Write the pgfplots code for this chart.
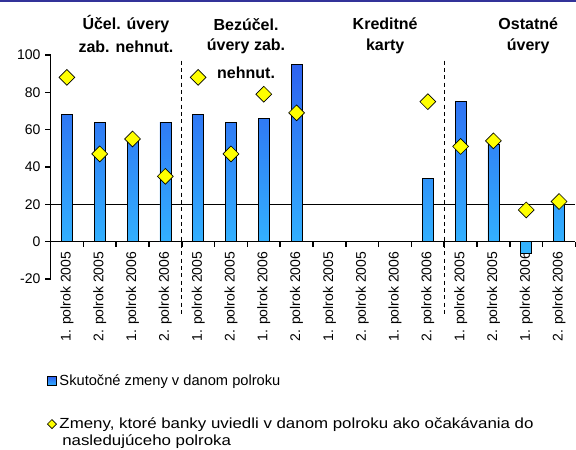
\documentclass[border=0pt]{standalone}
\usepackage{pgfplots}
\pgfplotsset{compat=1.18}
\usepackage{fontspec}
\setmainfont{Liberation Sans}
\newfontfamily\widefont[FakeStretch=1.15]{Liberation Sans}
\definecolor{bartop}{HTML}{2E62F0}
\definecolor{barbot}{HTML}{33B5FF}
\definecolor{diam}{HTML}{FFFF00}
\definecolor{frameblue}{HTML}{333399}

\begin{document}
\begin{tikzpicture}
\begin{axis}[
  scale only axis,
  width=393.75pt, height=168pt,
  xmin=-0.5, xmax=15.5, ymin=-20, ymax=100,
  clip=false,
  axis x line*=middle, axis y line*=left,
  axis line style={line width=1.2pt, black},
  tick align=outside,
  ytick={-20,0,20,40,60,80,100},
  yticklabels={-20,0,20,40,60,80,100},
  xtick={0,...,15},
  xticklabels={1. polrok 2005,2. polrok 2005,1. polrok 2006,2. polrok 2006,
               1. polrok 2005,2. polrok 2005,1. polrok 2006,2. polrok 2006,
               1. polrok 2005,2. polrok 2005,1. polrok 2006,2. polrok 2006,
               1. polrok 2005,2. polrok 2005,1. polrok 2006,2. polrok 2006},
  minor xtick={-0.5,0.5,...,15.5},
  major x tick style={draw=none},
  minor x tick style={black, line width=1.2pt},
  y tick style={black, line width=1.2pt},
  major tick length=4pt, minor tick length=4pt,
  x tick label style={rotate=90, anchor=east, font=\fontsize{10.5}{12}\selectfont},
  y tick label style={font=\fontsize{10.5}{12}\selectfont},
  legend style={at={(rel axis cs:-0.007,-0.415)}, anchor=north west, draw=none, fill=none,
    font=\fontsize{11}{13}\selectfont, row sep=18.5pt, inner sep=0pt},
  legend cell align=left,
]
\addplot[black, line width=0.6pt, forget plot] coordinates {(-0.5,20) (15.5,20)};

\addplot[ybar, bar width=8.25pt, draw=black, line width=0.5pt, top color=bartop, bottom color=barbot,
  legend image code/.code={\draw[fill=bartop, draw=black, line width=0.5pt] (0pt,-3.4pt) rectangle (6.8pt,3.4pt);}]
  coordinates {(0,68) (1,64) (2,54) (3,64) (4,68) (5,64) (6,66) (7,95) (11,34) (12,75) (13,52) (14,-6) (15,22)};
\addlegendentry{Skutočné zmeny v danom polroku}

\addplot[only marks, mark=square*, mark size=4.2pt, mark options={rotate=45, fill=diam, draw=black, line width=0.5pt},
  legend image code/.code={\draw[fill=diam, draw=black, line width=0.5pt] (3.4pt,-3.4pt) -- (6.8pt,0pt) -- (3.4pt,3.4pt) -- (0pt,0pt) -- cycle;}]
  coordinates {(0,88) (1,47) (2,55) (3,35) (4,88) (5,47) (6,79) (7,69) (11,75) (12,51) (13,54) (14,17) (15,21.5)};
\addlegendentry{\widefont Zmeny, ktoré banky uviedli v danom polroku ako očakávania do}

\draw[black, line width=0.8pt, dash pattern=on 3pt off 2.5pt] (axis cs:3.5,97) -- (axis cs:3.5,-40);
\draw[black, line width=0.8pt, dash pattern=on 3pt off 2.5pt] (axis cs:11.5,97) -- (axis cs:11.5,-40);

\node[font=\bfseries\fontsize{12}{14}\selectfont] at (axis cs:1.80,116.5) {Účel. úvery};
\node[font=\bfseries\fontsize{12}{14}\selectfont] at (axis cs:1.80,104.5) {zab. nehnut.};
\node[font=\bfseries\fontsize{12}{14}\selectfont] at (axis cs:5.46,116.5) {Bezúčel.};
\node[font=\bfseries\fontsize{12}{14}\selectfont] at (axis cs:5.46,104.5) {úvery zab.};
\node[font=\bfseries\fontsize{12}{14}\selectfont] at (axis cs:5.46,90.5) {nehnut.};
\node[font=\bfseries\fontsize{12}{14}\selectfont] at (axis cs:9.70,116.5) {Kreditné};
\node[font=\bfseries\fontsize{12}{14}\selectfont] at (axis cs:9.70,104.5) {karty};
\node[font=\bfseries\fontsize{12}{14}\selectfont] at (axis cs:14.06,116.5) {Ostatné};
\node[font=\bfseries\fontsize{12}{14}\selectfont] at (axis cs:14.06,104.5) {úvery};

\node[anchor=west, font=\widefont\fontsize{11}{13}\selectfont, inner sep=0pt] at (rel axis cs:0.0219,-0.727) {nasledujúceho polroka};

\draw[frameblue, line width=1.2pt] (rel axis cs:-0.0962,1.242) -- (rel axis cs:1.001,1.242);

\coordinate (BL) at (rel axis cs:-0.0962,-0.7634);
\coordinate (TR) at (rel axis cs:1.0010,1.2455);
\end{axis}
\pgfresetboundingbox
\path[use as bounding box] (BL) rectangle (TR);
\end{tikzpicture}
\end{document}
